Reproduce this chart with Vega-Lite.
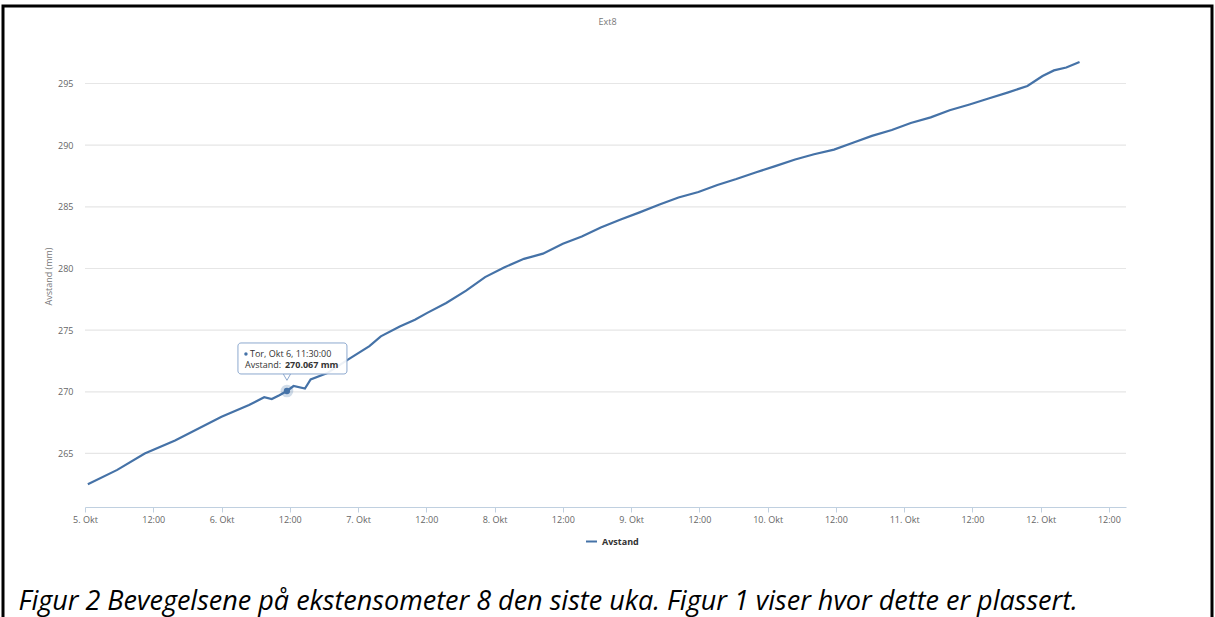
{
  "$schema": "https://vega.github.io/schema/vega-lite/v6.json",
  "width": 1209,
  "height": 611,
  "autosize": {"type": "none"},
  "padding": {"left": 3, "top": 6, "right": 3, "bottom": 0},
  "background": "white",
  "config": {
    "font": "Open Sans",
    "view": {"stroke": "black", "strokeWidth": 3, "strokeDash": [1820, 1209, 640, 0]}
  },
  "title": {
    "text": "Ext8",
    "fontSize": 9,
    "fontWeight": "normal",
    "color": "#777",
    "anchor": "middle",
    "frame": "group",
    "offset": -21
  },
  "datasets": {
    "series": [
      {"t": "2016-10-05T00:30", "v": 262.5},
      {"t": "2016-10-05T05:40", "v": 263.67},
      {"t": "2016-10-05T10:30", "v": 265.0},
      {"t": "2016-10-05T15:50", "v": 266.06},
      {"t": "2016-10-06T00:00", "v": 267.97},
      {"t": "2016-10-06T04:50", "v": 268.93},
      {"t": "2016-10-06T07:30", "v": 269.56},
      {"t": "2016-10-06T08:50", "v": 269.41},
      {"t": "2016-10-06T10:10", "v": 269.72},
      {"t": "2016-10-06T11:30", "v": 270.067},
      {"t": "2016-10-06T12:40", "v": 270.47},
      {"t": "2016-10-06T14:40", "v": 270.27},
      {"t": "2016-10-06T15:40", "v": 271.0},
      {"t": "2016-10-06T18:30", "v": 271.5},
      {"t": "2016-10-06T22:30", "v": 272.69},
      {"t": "2016-10-07T02:00", "v": 273.7},
      {"t": "2016-10-07T04:00", "v": 274.5},
      {"t": "2016-10-07T07:20", "v": 275.3},
      {"t": "2016-10-07T10:00", "v": 275.84},
      {"t": "2016-10-07T12:10", "v": 276.4},
      {"t": "2016-10-07T15:30", "v": 277.2},
      {"t": "2016-10-07T19:00", "v": 278.2},
      {"t": "2016-10-07T22:20", "v": 279.3},
      {"t": "2016-10-08T01:40", "v": 280.08},
      {"t": "2016-10-08T05:10", "v": 280.78},
      {"t": "2016-10-08T08:30", "v": 281.2},
      {"t": "2016-10-08T12:00", "v": 282.0},
      {"t": "2016-10-08T15:20", "v": 282.6},
      {"t": "2016-10-08T18:40", "v": 283.33},
      {"t": "2016-10-08T22:10", "v": 283.97},
      {"t": "2016-10-09T01:30", "v": 284.55},
      {"t": "2016-10-09T05:00", "v": 285.18},
      {"t": "2016-10-09T08:20", "v": 285.75},
      {"t": "2016-10-09T11:50", "v": 286.2},
      {"t": "2016-10-09T15:10", "v": 286.77},
      {"t": "2016-10-09T18:30", "v": 287.25},
      {"t": "2016-10-09T22:00", "v": 287.8},
      {"t": "2016-10-10T01:20", "v": 288.3},
      {"t": "2016-10-10T04:50", "v": 288.84},
      {"t": "2016-10-10T08:10", "v": 289.26},
      {"t": "2016-10-10T11:40", "v": 289.64},
      {"t": "2016-10-10T15:00", "v": 290.2},
      {"t": "2016-10-10T18:20", "v": 290.75},
      {"t": "2016-10-10T21:50", "v": 291.23},
      {"t": "2016-10-11T01:10", "v": 291.8},
      {"t": "2016-10-11T04:40", "v": 292.25},
      {"t": "2016-10-11T08:00", "v": 292.83},
      {"t": "2016-10-11T11:30", "v": 293.3},
      {"t": "2016-10-11T14:50", "v": 293.78},
      {"t": "2016-10-11T18:10", "v": 294.26},
      {"t": "2016-10-11T21:40", "v": 294.8},
      {"t": "2016-10-11T23:00", "v": 295.2},
      {"t": "2016-10-12T00:20", "v": 295.6},
      {"t": "2016-10-12T02:20", "v": 296.06},
      {"t": "2016-10-12T04:30", "v": 296.3},
      {"t": "2016-10-12T06:50", "v": 296.75}
    ],
    "grid": [{"g": 265}, {"g": 270}, {"g": 275}, {"g": 280}, {"g": 285}, {"g": 290}, {"g": 295}],
    "hover": [{"t": "2016-10-06T11:30", "v": 270.067}]
  },
  "layer": [
    {
      "data": {"name": "grid"},
      "mark": {"type": "rule", "color": "#e6e6e6", "strokeWidth": 1.2},
      "encoding": {
        "y": {"field": "g", "type": "quantitative"},
        "x": {"datum": {"year": 2016, "month": 10, "date": 5}, "type": "temporal"},
        "x2": {"datum": {"year": 2016, "month": 10, "date": 12, "hours": 15}}
      }
    },
    {
      "data": {"name": "series"},
      "mark": {"type": "line", "strokeWidth": 2.2},
      "encoding": {
        "x": {
          "field": "t",
          "type": "temporal",
          "scale": {
            "domain": [{"year": 2016, "month": 10, "date": 5}, {"year": 2016, "month": 10, "date": 12, "hours": 15}],
            "range": [82, 1123],
            "nice": false
          },
          "axis": {
            "orient": "bottom",
            "offset": -110,
            "grid": false,
            "domainColor": "#C0D0E0",
            "domainWidth": 1,
            "tickColor": "#C0D0E0",
            "tickSize": 5,
            "values": [
              {"year": 2016, "month": 10, "date": 5, "hours": 0},
              {"year": 2016, "month": 10, "date": 5, "hours": 12},
              {"year": 2016, "month": 10, "date": 6, "hours": 0},
              {"year": 2016, "month": 10, "date": 6, "hours": 12},
              {"year": 2016, "month": 10, "date": 7, "hours": 0},
              {"year": 2016, "month": 10, "date": 7, "hours": 12},
              {"year": 2016, "month": 10, "date": 8, "hours": 0},
              {"year": 2016, "month": 10, "date": 8, "hours": 12},
              {"year": 2016, "month": 10, "date": 9, "hours": 0},
              {"year": 2016, "month": 10, "date": 9, "hours": 12},
              {"year": 2016, "month": 10, "date": 10, "hours": 0},
              {"year": 2016, "month": 10, "date": 10, "hours": 12},
              {"year": 2016, "month": 10, "date": 11, "hours": 0},
              {"year": 2016, "month": 10, "date": 11, "hours": 12},
              {"year": 2016, "month": 10, "date": 12, "hours": 0},
              {"year": 2016, "month": 10, "date": 12, "hours": 12}
            ],
            "labelExpr": "hours(datum.value) == 0 ? date(datum.value) + '. Okt' : timeFormat(datum.value, '%H:%M')",
            "labelFlush": false,
            "labelOverlap": false,
            "labelFontSize": 9,
            "labelColor": "#666",
            "labelPadding": 3,
            "title": "Figur 2 Bevegelsene på ekstensometer 8 den siste uka. Figur 1 viser hvor dette er plassert.",
            "titleFont": "Open Sans",
            "titleFontStyle": "italic",
            "titleFontWeight": "normal",
            "titleFontSize": 27,
            "titleColor": "#000",
            "titleAlign": "left",
            "titleAnchor": "start",
            "titleBaseline": "alphabetic",
            "titleX": 15,
            "titleY": 102
          }
        },
        "y": {
          "field": "v",
          "type": "quantitative",
          "scale": {"domain": [260.66, 298.12], "range": [501, 39], "nice": false, "zero": false},
          "axis": {
            "orient": "left",
            "offset": -82,
            "domain": false,
            "ticks": false,
            "grid": false,
            "values": [265, 270, 275, 280, 285, 290, 295],
            "labelFontSize": 9,
            "labelColor": "#666",
            "labelPadding": 12,
            "title": "Avstand (mm)",
            "titleFontSize": 9,
            "titleFontWeight": "normal",
            "titleColor": "#777",
            "titleAngle": -90,
            "titleAlign": "center",
            "titleBaseline": "middle",
            "titleX": -37,
            "titleY": 270
          }
        },
        "color": {
          "datum": "Avstand",
          "type": "nominal",
          "scale": {"range": ["#4572A7"]},
          "legend": {
            "orient": "none",
            "legendX": 582,
            "legendY": 529,
            "title": null,
            "symbolType": "stroke",
            "symbolStrokeWidth": 2,
            "symbolSize": 120,
            "labelFontSize": 9,
            "labelFontWeight": "bold",
            "labelColor": "#333"
          }
        }
      }
    },
    {
      "data": {"name": "hover"},
      "mark": {"type": "point", "shape": "circle", "filled": true, "size": 160, "color": "#4572A7", "opacity": 0.25},
      "encoding": {"x": {"field": "t", "type": "temporal"}, "y": {"field": "v", "type": "quantitative"}}
    },
    {
      "data": {"name": "hover"},
      "mark": {"type": "point", "shape": "circle", "filled": true, "size": 40, "color": "#4572A7", "opacity": 1},
      "encoding": {"x": {"field": "t", "type": "temporal"}, "y": {"field": "v", "type": "quantitative"}}
    },
    {
      "data": {"name": "hover"},
      "mark": {"type": "point", "shape": "triangle-down", "filled": true, "size": 60, "fill": "white", "stroke": "#8da9cf", "strokeWidth": 1, "opacity": 1, "yOffset": -14},
      "encoding": {"x": {"field": "t", "type": "temporal"}, "y": {"field": "v", "type": "quantitative"}}
    },
    {
      "data": {"name": "hover"},
      "mark": {"type": "rect", "fill": "white", "fillOpacity": 0.9, "stroke": "#8da9cf", "strokeWidth": 1, "cornerRadius": 3, "xOffset": -49, "x2Offset": 60, "yOffset": -48, "y2Offset": -17},
      "encoding": {
        "x": {"field": "t", "type": "temporal"},
        "x2": {"field": "t"},
        "y": {"field": "v", "type": "quantitative"},
        "y2": {"field": "v"}
      }
    },
    {
      "data": {"name": "hover"},
      "mark": {"type": "point", "shape": "circle", "filled": true, "size": 12, "color": "#4572A7", "opacity": 1, "xOffset": -41, "yOffset": -37},
      "encoding": {"x": {"field": "t", "type": "temporal"}, "y": {"field": "v", "type": "quantitative"}}
    },
    {
      "data": {"name": "hover"},
      "mark": {"type": "text", "align": "left", "baseline": "middle", "dx": -37, "dy": -37, "fontSize": 9, "color": "#333"},
      "encoding": {
        "x": {"field": "t", "type": "temporal"},
        "y": {"field": "v", "type": "quantitative"},
        "text": {"field": "t", "type": "temporal", "format": "Tor, Okt %-d, %H:%M:%S"}
      }
    },
    {
      "data": {"name": "hover"},
      "mark": {"type": "text", "align": "left", "baseline": "middle", "dx": -42, "dy": -26, "fontSize": 9, "color": "#333", "text": "Avstand:"},
      "encoding": {"x": {"field": "t", "type": "temporal"}, "y": {"field": "v", "type": "quantitative"}}
    },
    {
      "data": {"name": "hover"},
      "transform": [{"calculate": "format(datum.v, '.3f') + ' mm'", "as": "lbl"}],
      "mark": {"type": "text", "align": "left", "baseline": "middle", "dx": -2, "dy": -26, "fontSize": 9, "fontWeight": "bold", "color": "#333"},
      "encoding": {
        "x": {"field": "t", "type": "temporal"},
        "y": {"field": "v", "type": "quantitative"},
        "text": {"field": "lbl", "type": "nominal"}
      }
    }
  ]
}
